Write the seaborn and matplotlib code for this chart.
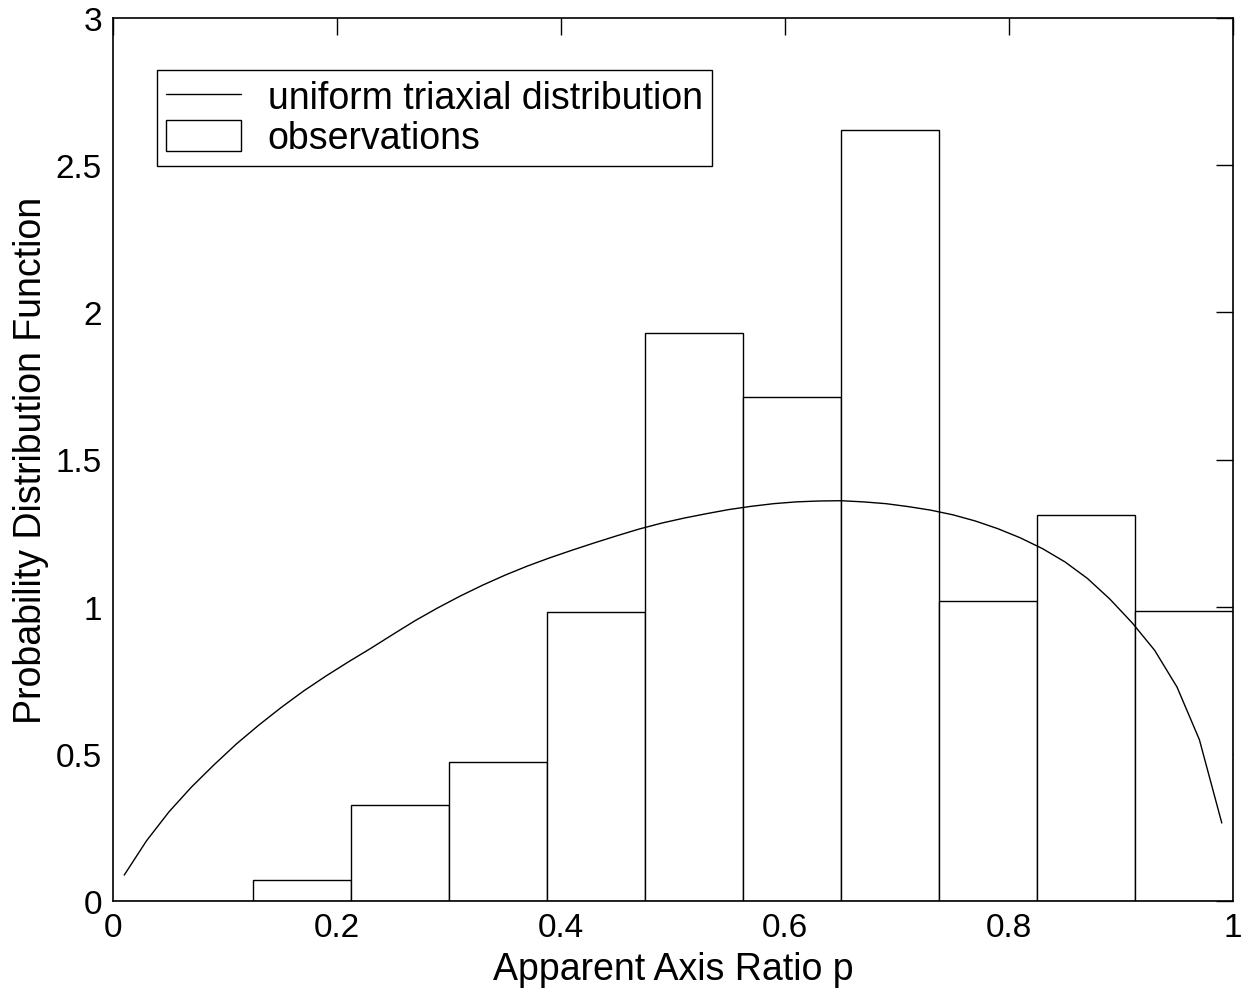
import matplotlib
matplotlib.use("Agg")
import matplotlib.pyplot as plt
import seaborn as sns
import numpy as np
import pandas as pd
from matplotlib.ticker import FuncFormatter, MultipleLocator

# ---- data ----
bin_edges = [-0.05, 0.0375, 0.125, 0.2125, 0.3, 0.3875, 0.475, 0.5625, 0.65,
             0.7375, 0.825, 0.9125, 1.0]
bar_heights = [0.0, 0.0, 0.072, 0.327, 0.473, 0.983, 1.929, 1.711, 2.621,
               1.018, 1.312, 0.984]

curve_x = [0.01, 0.03, 0.05, 0.07, 0.09, 0.11, 0.13, 0.15, 0.17, 0.19,
           0.21, 0.23, 0.25, 0.27, 0.29, 0.31, 0.33, 0.35, 0.37, 0.39,
           0.41, 0.43, 0.45, 0.47, 0.49, 0.51, 0.53, 0.55, 0.57, 0.59,
           0.61, 0.63, 0.65, 0.67, 0.69, 0.71, 0.73, 0.75, 0.77, 0.79,
           0.81, 0.83, 0.85, 0.87, 0.89, 0.91, 0.93, 0.95, 0.97, 0.99]
curve_y = [0.088, 0.205, 0.303, 0.387, 0.462, 0.533, 0.597, 0.657, 0.713, 0.764,
           0.812, 0.858, 0.906, 0.953, 0.996, 1.036, 1.073, 1.107, 1.138, 1.166,
           1.192, 1.217, 1.241, 1.264, 1.284, 1.301, 1.316, 1.330, 1.341, 1.350,
           1.356, 1.359, 1.360, 1.356, 1.350, 1.340, 1.328, 1.312, 1.291, 1.265,
           1.234, 1.197, 1.152, 1.096, 1.026, 0.945, 0.852, 0.727, 0.548, 0.265]

x_label = "Apparent Axis Ratio p"
y_label = "Probability Distribution Function"
line_label = "uniform triaxial distribution"
bar_label = "observations"

# ---- style ----
sns.set_style("white")
plt.rcParams["font.family"] = ["Liberation Sans", "DejaVu Sans"]
plt.rcParams["text.color"] = "black"
plt.rcParams["axes.labelcolor"] = "black"

fig = plt.figure(figsize=(12.49, 9.95), dpi=100)
ax = fig.add_axes([113 / 1249, 1 - 902 / 995, 1120 / 1249, 883 / 995])

centers = [(bin_edges[i] + bin_edges[i + 1]) / 2 for i in range(len(bar_heights))]
df_bars = pd.DataFrame({"p": centers, "h": bar_heights})
sns.histplot(data=df_bars, x="p", weights="h", bins=bin_edges, stat="count",
             color="white", edgecolor="black", linewidth=1.0, alpha=1,
             ax=ax, label=bar_label)

df_line = pd.DataFrame({"p": curve_x, "f": curve_y})
sns.lineplot(data=df_line, x="p", y="f", color="black", linewidth=1.0,
             ax=ax, label=line_label, sort=False)

ax.set_xlim(0, 1)
ax.set_ylim(0, 3)
ax.xaxis.set_major_locator(MultipleLocator(0.2))
ax.yaxis.set_major_locator(MultipleLocator(0.5))
fmt = FuncFormatter(lambda v, pos: f"{v:g}")
ax.xaxis.set_major_formatter(fmt)
ax.yaxis.set_major_formatter(fmt)

ax.tick_params(direction="in", length=12, width=1.0, labelsize=24,
               top=True, right=True, pad=8, colors="black")
for s in ax.spines.values():
    s.set_visible(True)
    s.set_color("black")
    s.set_linewidth(1.2)

ax.set_xlabel(x_label, fontsize=27, labelpad=6, color="black")
ax.set_ylabel(y_label, fontsize=27, labelpad=5, color="black")

handles, labels = ax.get_legend_handles_labels()
order = [labels.index(line_label), labels.index(bar_label)]
leg = ax.legend([handles[i] for i in order], [labels[i] for i in order],
                loc="upper left", bbox_to_anchor=(0.0393, 0.941),
                borderaxespad=0, fancybox=False, framealpha=1,
                edgecolor="black", fontsize=27, handlelength=2.0,
                handleheight=0.9, borderpad=0.25, labelspacing=0.1,
                handletextpad=0.7)
leg.get_frame().set_linewidth(1.0)
for t in leg.get_texts():
    t.set_color("black")

fig.savefig("out.png", dpi=100, facecolor="white")
